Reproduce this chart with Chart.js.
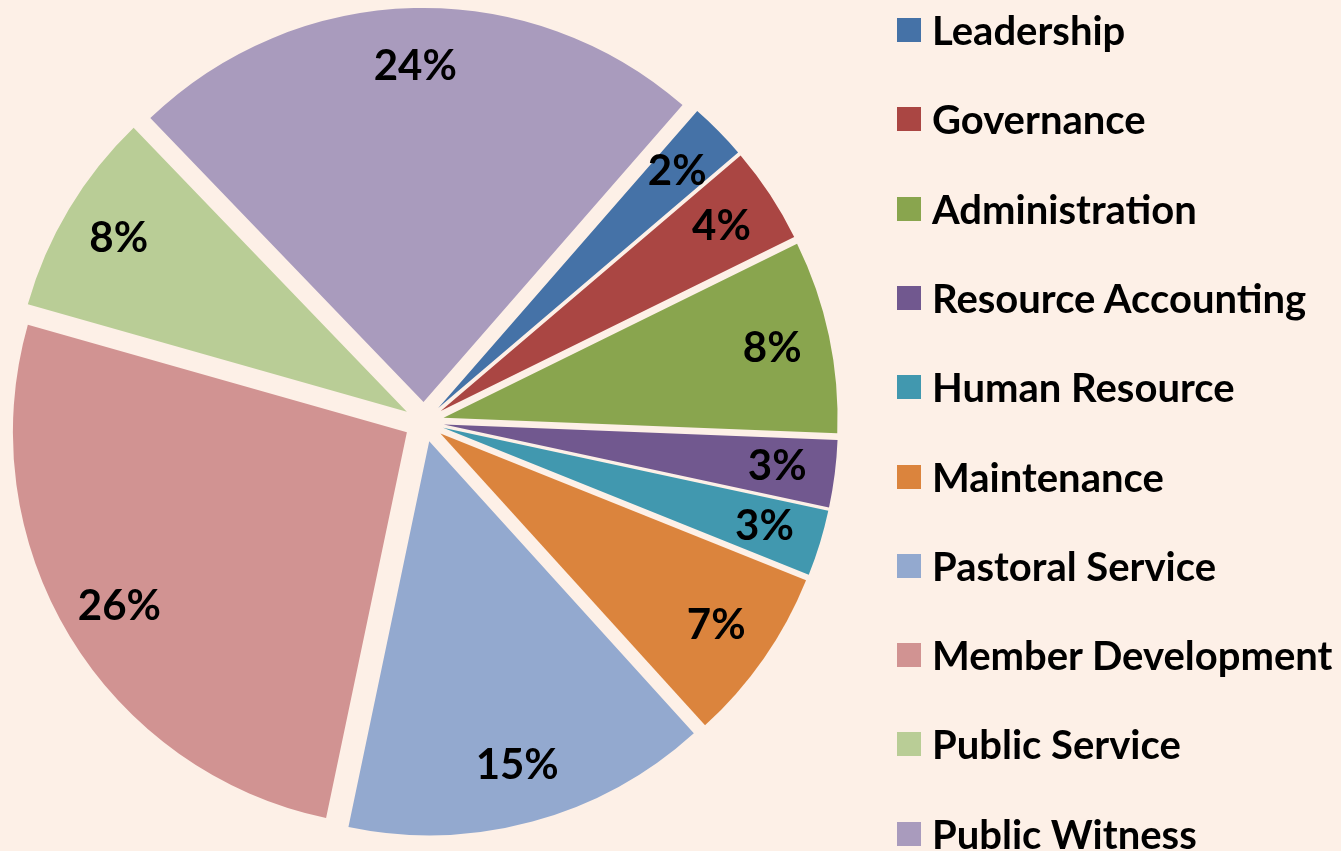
<!DOCTYPE html>
<html>
<head>
<meta charset="utf-8">
<script src="https://cdn.jsdelivr.net/npm/chart.js@4/dist/chart.umd.min.js"></script>
<style>
    body { margin: 0; background: #FDF0E7; }
    #wrap { position: relative; width: 1341px; height: 851px; overflow: hidden; }
    #legend { position: absolute; left: 897px; top: -14.6px; font-family: Lato, "Open Sans", sans-serif; font-weight: bold; font-size: 40px; color: #000; }
    .item { display: flex; align-items: center; height: 89.3px; white-space: nowrap; }
    .box { width: 24px; height: 24px; margin-right: 11px; flex: none; }
</style>
</head>
<body>
<div id="wrap">
    <canvas id="chart"></canvas>
    <div id="legend"></div>
</div>
<script>
const categories = ['Leadership', 'Governance', 'Administration', 'Resource Accounting', 'Human Resource',
    'Maintenance', 'Pastoral Service', 'Member Development', 'Public Service', 'Public Witness'];
// shares in percent
const shares = [2.35, 3.95, 7.9, 2.75, 2.7, 7.2, 15.0, 26.1, 8.4, 23.6];
const sliceColors = ['#4572A7', '#AA4643', '#89A54E', '#71588F', '#4198AF',
    '#DB843D', '#93A9CF', '#D19392', '#B9CD96', '#A99BBD'];

const EXPLODE = 20;   // px each slice is pulled out
const LABEL_DIST = 336; // px from centre (before explode) for the % labels

// draw each slice shifted outward along its middle angle (Excel style explode)
const explodePlugin = {
    id: 'explode',
    beforeDatasetDraw(chart, args) {
        const ctx = chart.ctx;
        args.meta.data.forEach(function (arc) {
            const mid = (arc.startAngle + arc.endAngle) / 2;
            ctx.save();
            ctx.translate(Math.cos(mid) * EXPLODE, Math.sin(mid) * EXPLODE);
            arc.draw(ctx);
            ctx.restore();
        });
        return false;
    }
};

const percentLabels = {
    id: 'percentLabels',
    afterDatasetsDraw(chart) {
        const ctx = chart.ctx;
        const meta = chart.getDatasetMeta(0);
        const total = shares.reduce((a, b) => a + b, 0);
        ctx.save();
        ctx.font = 'bold 42px Lato, "Open Sans", sans-serif';
        ctx.fillStyle = '#000';
        ctx.textAlign = 'center';
        ctx.textBaseline = 'middle';
        meta.data.forEach(function (arc, i) {
            const mid = (arc.startAngle + arc.endAngle) / 2;
            const d = LABEL_DIST + EXPLODE;
            const txt = Math.round(shares[i] / total * 100) + '%';
            ctx.fillText(txt, arc.x + Math.cos(mid) * d, arc.y + Math.sin(mid) * d);
        });
        ctx.restore();
    }
};

const chart = new Chart(document.getElementById('chart'), {
    type: 'pie',
    data: {
        labels: categories,
        datasets: [{
            data: shares,
            backgroundColor: sliceColors,
            borderWidth: 0,
            radius: 394
        }]
    },
    options: {
        responsive: true,
        maintainAspectRatio: false,
        animation: false,
        rotation: 41.1,
        layout: { padding: { left: 0, top: 0, right: 493, bottom: 7 } },
        plugins: {
            legend: { display: false },
            tooltip: { enabled: false }
        }
    },
    plugins: [explodePlugin, percentLabels]
});

// html legend built from the chart data
const legendEl = document.getElementById('legend');
chart.data.labels.forEach(function (label, i) {
    const item = document.createElement('div');
    item.className = 'item';
    const box = document.createElement('span');
    box.className = 'box';
    box.style.background = sliceColors[i];
    const text = document.createElement('span');
    text.textContent = label;
    item.appendChild(box);
    item.appendChild(text);
    legendEl.appendChild(item);
});
</script>
</body>
</html>
